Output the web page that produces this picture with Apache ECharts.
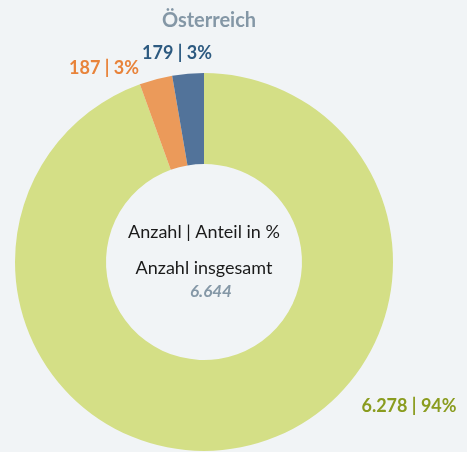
<!DOCTYPE html>
<html><head><meta charset="utf-8">
<script src="https://cdn.jsdelivr.net/npm/echarts@6/dist/echarts.min.js"></script>
<style>html,body{margin:0;padding:0;background:#f1f4f6}#c{width:467px;height:452px}</style>
</head><body><div id="c"></div>
<script>
const categories = ['Sonstige', 'Orange', 'Blau'];
const values = [6278, 187, 179];
const percents = [94, 3, 3];
const total = 6644;
const title = 'Österreich';
const colors = ['#d4df86', '#eb9a5a', '#52739a'];
const labelColors = ['#8a9c1f', '#e8833a', '#2d5a80'];
const labelPos = [[409, 406], [104, 68], [177, 53]];
const FONT = 'Lato, "Noto Sans", sans-serif';
function fmt(n){return String(n).replace(/\B(?=(\d{3})+(?!\d))/g, '.');}
const chart = echarts.init(document.getElementById('c'));
chart.setOption({
  backgroundColor: '#f1f4f6',
  title: {text: title, left: 204, textAlign: 'center', top: 6,
    textStyle: {fontFamily: FONT, fontSize: 20, fontWeight: 'bold', color: '#8497a6'}},
  graphic: [
    {type: 'text', style: {text: 'Anzahl | Anteil in %', x: 204, y: 232, align: 'center', verticalAlign: 'middle', font: '18px ' + FONT, fill: '#1a1a1a'}},
    {type: 'text', style: {text: 'Anzahl insgesamt', x: 204, y: 268, align: 'center', verticalAlign: 'middle', font: '18px ' + FONT, fill: '#1a1a1a'}},
    {type: 'text', style: {text: fmt(total), x: 211, y: 292, align: 'center', verticalAlign: 'middle', font: 'italic bold 17px ' + FONT, fill: '#8497a6'}}
  ],
  series: [{
    type: 'pie', center: [204, 262], radius: [98, 189], startAngle: 90, clockwise: true,
    avoidLabelOverlap: false, silent: true,
    data: values.map((v, i) => ({name: categories[i], value: v, itemStyle: {color: colors[i]},
      label: {color: labelColors[i]}})),
    label: {show: true, position: 'outside', fontFamily: FONT, fontSize: 18, fontWeight: 'bold',
      formatter: p => fmt(values[p.dataIndex]) + ' | ' + percents[p.dataIndex] + '%'},
    labelLine: {show: false},
    labelLayout: p => ({x: labelPos[p.dataIndex][0], y: labelPos[p.dataIndex][1], align: 'center', verticalAlign: 'middle'})
  }]
});
</script></body></html>
